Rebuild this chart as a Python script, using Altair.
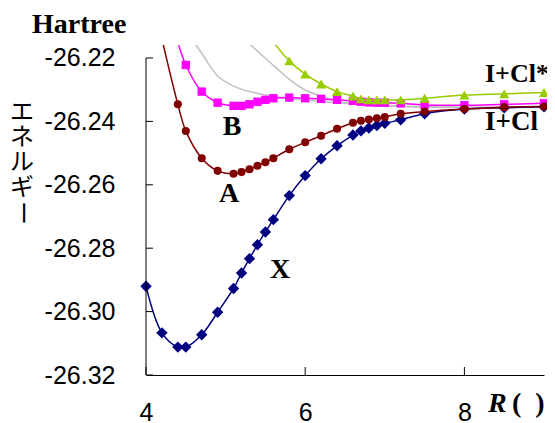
import altair as alt
import pandas as pd

# ---- data ----
R_X = [4.0, 4.2, 4.4, 4.5, 4.7, 4.9, 5.1, 5.2, 5.3, 5.4, 5.5, 5.6, 5.8, 6.0, 6.2, 6.4, 6.6, 6.7, 6.8, 6.9, 7.0, 7.2, 7.5, 8.0, 8.5, 9.0]
E_X = [-26.2920, -26.3067, -26.3112, -26.3112, -26.3073, -26.3002, -26.2927, -26.2878, -26.2833, -26.2789,
       -26.2749, -26.2710, -26.2634, -26.2571, -26.2518, -26.2477, -26.2443, -26.2430, -26.2421, -26.2413,
       -26.2406, -26.2395, -26.2376, -26.2361, -26.2357, -26.2354]

R_A = [4.2, 4.4, 4.5, 4.7, 4.9, 5.1, 5.2, 5.3, 5.4, 5.5, 5.6, 5.8, 6.0, 6.2, 6.4, 6.6, 6.7, 6.8, 6.9, 7.0, 7.2, 7.5, 8.0, 8.5, 9.0]
E_A = [-26.2140, -26.2346, -26.2430, -26.2516, -26.2556, -26.2565, -26.2560, -26.2551, -26.2540, -26.2529,
       -26.2516, -26.2488, -26.2466, -26.2445, -26.2423, -26.2404, -26.2398, -26.2394, -26.2390, -26.2386,
       -26.2376, -26.2369, -26.2361, -26.2355, -26.2353]

R_B = [4.4, 4.5, 4.7, 4.9, 5.1, 5.2, 5.3, 5.4, 5.5, 5.6, 5.8, 6.0, 6.2, 6.4, 6.6, 6.7, 6.8, 6.9, 7.0, 7.2, 7.5, 8.0, 8.5, 9.0]
E_B = [-26.2150, -26.2222, -26.2306, -26.2341, -26.2351, -26.2351, -26.2346, -26.2338, -26.2332, -26.2327,
       -26.2325, -26.2327, -26.2329, -26.2332, -26.2335, -26.2338, -26.2340, -26.2341, -26.2341, -26.2343,
       -26.2348, -26.2349, -26.2346, -26.2343]

R_S = [5.6, 5.8, 6.0, 6.2, 6.4, 6.6, 6.7, 6.8, 6.9, 7.0, 7.2, 7.5, 8.0, 8.5, 9.0]
E_S = [-26.2150, -26.2209, -26.2251, -26.2282, -26.2306, -26.2320, -26.2329, -26.2332, -26.2332, -26.2332,
       -26.2332, -26.2327, -26.2317, -26.2313, -26.2309]

R_G1 = [4.6, 4.7, 4.91, 5.16, 5.39, 5.64, 5.97, 6.5, 7.0, 7.5, 8.0, 9.0]
E_G1 = [-26.2150, -26.2185, -26.2259, -26.2295, -26.2311, -26.2322, -26.2332, -26.2343, -26.2350, -26.2354, -26.2355, -26.2355]

R_G2 = [5.3, 5.43, 5.64, 5.81, 6.0, 6.19, 6.48, 6.82, 7.2, 7.6, 8.0, 9.0]
E_G2 = [-26.2155, -26.2185, -26.2232, -26.2269, -26.2301, -26.2320, -26.2341, -26.2348, -26.2353, -26.2355, -26.2356, -26.2356]

X_TICKS = [4, 6, 8]
Y_TICKS = [-26.22, -26.24, -26.26, -26.28, -26.30, -26.32]

W, H = 398, 330

def df(r, e):
    return pd.DataFrame({"R": r, "E": e})

xenc = alt.X("R:Q", scale=alt.Scale(domain=[4, 9], nice=False, zero=False),
             axis=alt.Axis(values=X_TICKS, labelFont="Liberation Sans", labelFontSize=25,
                           labelColor="black", ticks=False, tickSize=0, labelPadding=25,
                           labelFlush=False, labelOverlap=False, domainColor="black",
                           domainWidth=1, grid=False, title=""))
yenc = alt.Y("E:Q", scale=alt.Scale(domain=[-26.32, -26.2159], nice=False, zero=False),
             axis=alt.Axis(values=Y_TICKS, labelFont="Liberation Sans", labelFontSize=25,
                           labelColor="black", ticks=False, tickSize=0, labelPadding=31,
                           labelFlush=False, labelOverlap=False, domain=False, grid=False,
                           labelExpr="'-' + format(abs(datum.value), '.2f')", title=""))

def curve(r, e, color, width=1.5):
    return alt.Chart(df(r, e)).mark_line(color=color, strokeWidth=width, clip=True,
                                         interpolate="catmull-rom").encode(x=xenc, y=yenc)

def points(r, e, color, shape, size):
    return alt.Chart(df(r, e)).transform_filter("datum.E <= -26.2195").mark_point(
        color=color, fill=color, filled=True, shape=shape, size=size, opacity=1).encode(x=xenc, y=yenc)

gray = "#C0C0C0"
layers = [
    curve(R_G1, E_G1, gray), curve(R_G2, E_G2, gray),
    curve(R_X, E_X, "#000080"), points(R_X, E_X, "#000080", "diamond", 130),
    curve(R_B, E_B, "#FF00FF"), points(R_B, E_B, "#FF00FF", "square", 70),
    curve(R_A, E_A, "#800000"), points(R_A, E_A, "#800000", "circle", 65),
    curve(R_S, E_S, "#99CC00"), points(R_S, E_S, "#99CC00", "triangle-up", 105),
]

# y axis line and inward ticks
yline = alt.Chart(pd.DataFrame({"E": [min(Y_TICKS)], "E2": [max(Y_TICKS)]})).mark_rule(
    color="black", strokeWidth=1).encode(x=alt.value(0), y=yenc, y2="E2:Q")
yticks = alt.Chart(pd.DataFrame({"E": Y_TICKS})).mark_rule(color="black", strokeWidth=1).encode(
    x=alt.value(0), x2=alt.value(7), y=yenc)
xticks = alt.Chart(pd.DataFrame({"R": X_TICKS})).mark_rule(color="black", strokeWidth=1).encode(
    x=xenc, y=alt.value(H), y2=alt.value(H - 8))
layers += [yline, yticks, xticks]

one = pd.DataFrame({"a": [0]})
serif = "Liberation Serif"

def label(text, x, y, align="center", size=28, style="normal", weight="bold", font=serif, baseline="alphabetic", angle=0):
    kw = dict(text=text, align=align, fontSize=size, fontWeight=weight, font=font,
              baseline=baseline, color="black", fontStyle=style)
    if angle:
        kw["angle"] = angle
    return alt.Chart(one).mark_text(**kw).encode(x=alt.value(x), y=alt.value(y))

NB = "\u00a0"
layers += [
    label("Hartree", -114, -12, align="left"),
    label("B", 86, 90),
    label("A", 83, 157),
    label("X", 134, 233),
    label("I+Cl*", 339, 37, align="left", size=26),
    label("I+Cl", 339, 85, align="left", size=27),
    label("R", 342, 367, align="left", style="italic"),
    label("(" + NB * 2 + ")", 366, 367, align="left"),
]
jp = alt.Chart(one).mark_text(text=["エ", "ネ", "ル", "ギ"], lineHeight=25, align="center",
                              baseline="middle", fontSize=24, font="Noto Sans CJK JP",
                              color="black").encode(x=alt.value(-124), y=alt.value(68))
jp2 = alt.Chart(one).mark_text(text="ー", angle=90, align="center", baseline="middle",
                               fontSize=24, font="Noto Sans CJK JP", color="black").encode(
    x=alt.value(-124), y=alt.value(168))
layers += [jp, jp2]

chart = alt.layer(*layers).properties(
    width=W, height=H,
    autosize=alt.AutoSizeParams(type="none"),
    padding={"left": 138, "top": 37, "right": 3, "bottom": 48},
).configure_view(stroke="transparent")

chart.save("out.html", embed_options={"renderer": "svg", "actions": False})
